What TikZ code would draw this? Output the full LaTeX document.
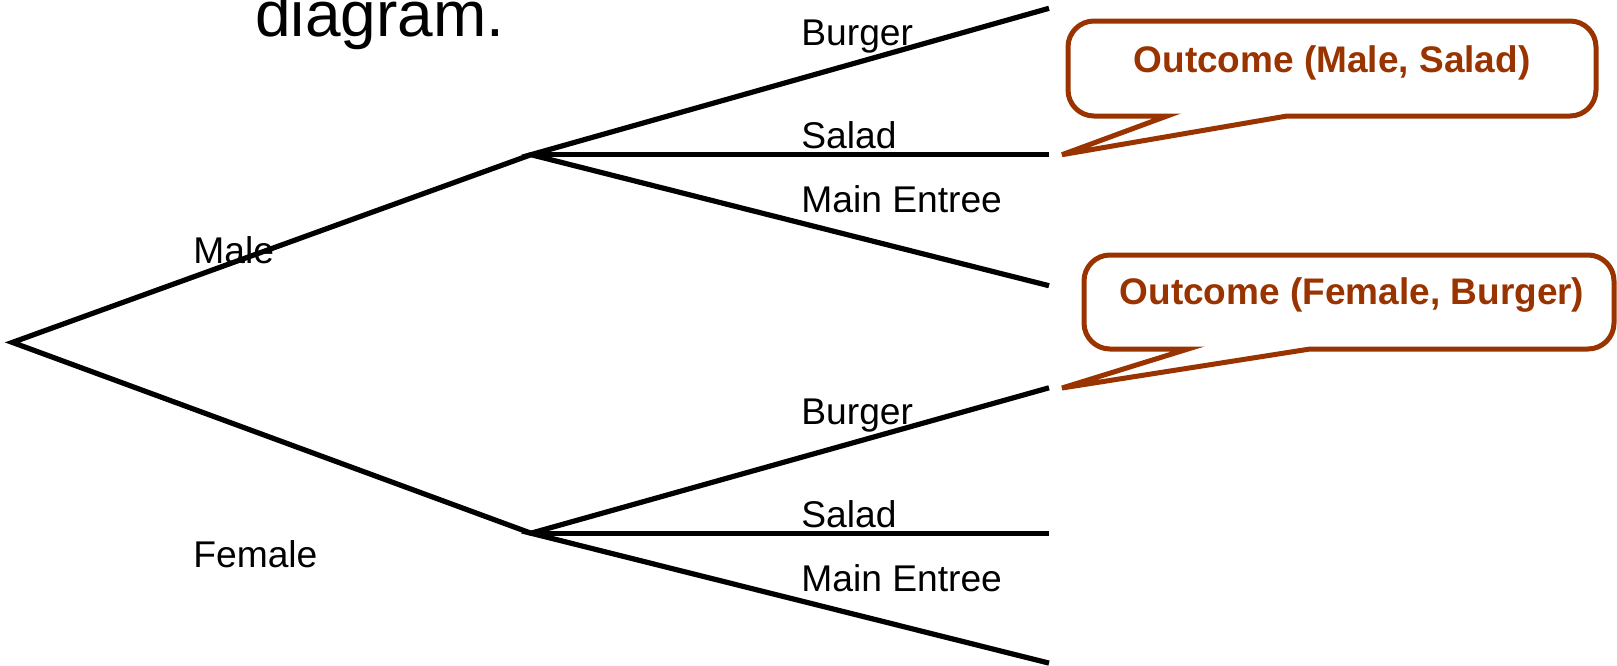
\documentclass[tikz,border=0pt]{standalone}
\usepackage{fontspec}
\setmainfont{Liberation Sans}
\definecolor{rust}{HTML}{993300}
\begin{document}
\begin{tikzpicture}[x=0.5pt,y=-0.5pt,
  branch/.style={line width=2.6pt, black},
  lbl/.style={anchor=base west, inner sep=0pt, font=\fontsize{18.6}{22}\selectfont},
  bubble/.style={draw=rust, line width=2.5pt, fill=white},
  bubbletext/.style={anchor=base, inner sep=0pt, text=rust,
    font=\bfseries\fontsize{18.5}{22}\selectfont}]
\useasboundingbox (0,0) rectangle (1617,665);

% heading fragment, cut by the top edge
\node[anchor=base west, inner sep=0pt, font=\fontsize{32}{36}\selectfont] (head) at (255,36) {diagram.};

% tree points
\coordinate (root)   at (12.4,342.4);
\coordinate (male)   at (531,154.7);
\coordinate (female) at (531,533.2);
\coordinate (mB) at (1049,8.3);
\coordinate (mS) at (1049,154.7);
\coordinate (mE) at (1049,285.7);
\coordinate (fB) at (1049,387.8);
\coordinate (fS) at (1049,533.2);
\coordinate (fE) at (1049,663.1);

% branches
\draw[branch] (male) -- (root) -- (female);
\draw[branch] (mB) -- (male) -- (mE);
\draw[branch] (male) -- (mS);
\draw[branch] (fB) -- (female) -- (fE);
\draw[branch] (female) -- (fS);

% branch labels
\node[lbl] (lmale)   at (193,263) {Male};
\node[lbl] (lfemale) at (193,567) {Female};
\node[lbl] (lmB) at (801,45)    {Burger};
\node[lbl] (lmS) at (801,148.5) {Salad};
\node[lbl] (lmE) at (801,212.5) {Main Entree};
\node[lbl] (lfB) at (801,424)   {Burger};
\node[lbl] (lfS) at (801,527)   {Salad};
\node[lbl] (lfE) at (801,591)   {Main Entree};

% callout pointing at (Male, Salad)
\coordinate (tipA) at (1062,154.7);
\draw[bubble] (1300,21) [rounded corners=13] -- (1596,21) -- (1596,116) -- (1450,116)
  [sharp corners] -- (1287,116) -- (tipA) -- (1167,116) -- (1120,116)
  [rounded corners=13] -- (1068,116) -- (1068,21) -- cycle;
\node[bubbletext] (outA) at (1332,72) {Outcome (Male, Salad)};

% callout pointing at (Female, Burger)
\coordinate (tipB) at (1062,388);
\draw[bubble] (1300,255) [rounded corners=13] -- (1614,255) -- (1614,349) -- (1450,349)
  [sharp corners] -- (1310,349) -- (tipB) -- (1188,349) -- (1140,349)
  [rounded corners=13] -- (1084,349) -- (1084,255) -- cycle;
\node[bubbletext] (outB) at (1352,304) {Outcome (Female, Burger)};
\end{tikzpicture}
\end{document}
